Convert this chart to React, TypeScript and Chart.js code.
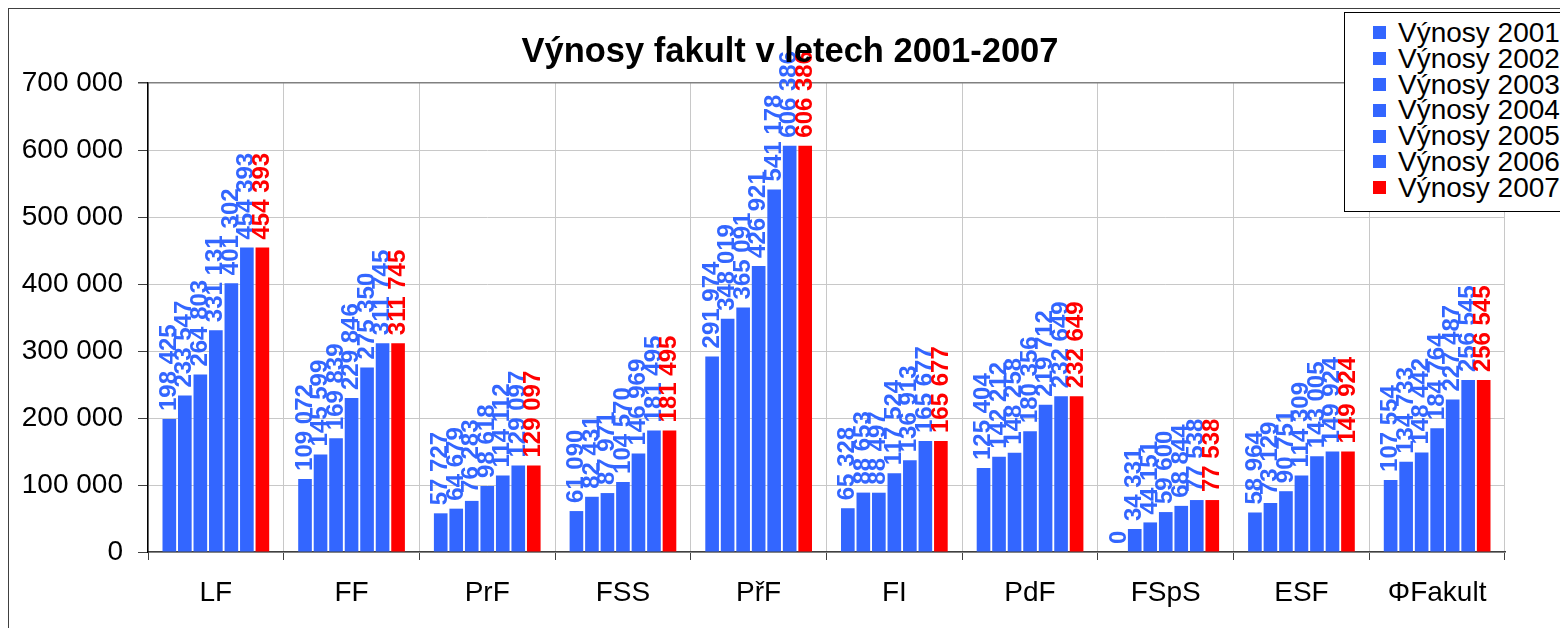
import { useEffect, useRef } from 'react';
import { Chart, registerables } from 'chart.js';

Chart.register(...registerables);

const FONT = '"Liberation Sans", Arial, Helvetica, sans-serif';

const chartTitle = 'Výnosy fakult v letech 2001-2007';
const categories = ['LF', 'FF', 'PrF', 'FSS', 'PřF', 'FI', 'PdF', 'FSpS', 'ESF', 'ΦFakult'];
const seriesNames = ['Výnosy 2001', 'Výnosy 2002', 'Výnosy 2003', 'Výnosy 2004', 'Výnosy 2005', 'Výnosy 2006', 'Výnosy 2007'];
const seriesColors = ['#3366FF', '#3366FF', '#3366FF', '#3366FF', '#3366FF', '#3366FF', '#FF0000'];

const v2001 = [198425, 109072, 57727, 61090, 291974, 65328, 125404, 0, 58964, 107554];
const v2002 = [233547, 145599, 64679, 82431, 348019, 88653, 142212, 34331, 73129, 134733];
const v2003 = [264803, 169839, 76283, 87971, 365091, 88497, 148258, 44151, 90751, 148442];
const v2004 = [331131, 229846, 98618, 104570, 426921, 117524, 180356, 59600, 114309, 184764];
const v2005 = [401302, 275350, 114112, 146969, 541178, 136913, 219712, 68844, 143005, 227487];
const v2006 = [454393, 311745, 129097, 181495, 606386, 165677, 232649, 77538, 149924, 256545];
const v2007 = [454393, 311745, 129097, 181495, 606386, 165677, 232649, 77538, 149924, 256545];

const seriesValues = [v2001, v2002, v2003, v2004, v2005, v2006, v2007];

const yMin = 0;
const yMax = 700000;
const yStep = 100000;

const fmt = (v: number) => String(v).replace(/\B(?=(\d{3})+(?!\d))/g, ' ');

export default function App() {
  const ref = useRef<HTMLCanvasElement>(null);

  useEffect(() => {
    if (!ref.current) return;
    const labelPlugin = {
      id: 'barLabels',
      afterDatasetsDraw(chart: any) {
        const { ctx } = chart;
        ctx.save();
        ctx.font = `bold 24px ${FONT}`;
        ctx.textAlign = 'left';
        ctx.textBaseline = 'middle';
        chart.data.datasets.forEach((ds: any, i: number) => {
          const meta = chart.getDatasetMeta(i);
          meta.data.forEach((el: any, j: number) => {
            const v = ds.data[j];
            ctx.save();
            ctx.translate(el.x, el.y - 8);
            ctx.rotate(-Math.PI / 2);
            ctx.fillStyle = ds.backgroundColor;
            ctx.fillText(fmt(v), 0, 0);
            ctx.restore();
          });
        });
        ctx.restore();
      },
    };

    const titlePlugin = {
      id: 'fullWidthTitle',
      afterDraw(chart: any) {
        const { ctx } = chart;
        ctx.save();
        ctx.font = `bold 34.5px ${FONT}`;
        ctx.fillStyle = '#000';
        ctx.textAlign = 'center';
        ctx.textBaseline = 'alphabetic';
        ctx.fillText(chartTitle, chart.width / 2 + 2, 54);
        ctx.restore();
      },
    };

    const chart = new Chart(ref.current, {
      type: 'bar',
      data: {
        labels: categories,
        datasets: seriesNames.map((name, i) => ({
          label: name,
          data: seriesValues[i],
          backgroundColor: seriesColors[i],
          borderWidth: 0,
          categoryPercentage: 0.8,
          barPercentage: 0.88,
        })),
      },
      options: {
        animation: false,
        responsive: true,
        maintainAspectRatio: false,
        layout: { padding: { left: 0, right: 63, top: 75, bottom: 0 } },
        plugins: {
          legend: { display: false },
          tooltip: { enabled: false },
          title: { display: false },
        },
        scales: {
          x: {
            grid: {
              offset: true,
              color: '#c8c8c8',
              lineWidth: 1,
              drawTicks: true,
              tickLength: 8,
              tickColor: '#404040',
            },
            border: { display: true, color: '#404040', width: 1.5 },
            ticks: {
              color: '#000',
              font: { family: FONT, size: 28 },
              padding: 16,
              maxRotation: 0,
              autoSkip: false,
            },
            afterFit: (scale: any) => {
              scale.height = 76;
            },
          },
          y: {
            min: yMin,
            max: yMax,
            grid: {
              color: (c: any) => (c.tick && c.tick.value === yMax ? '#808080' : '#c8c8c8'),
              lineWidth: (c: any) => (c.tick && c.tick.value === yMax ? 1.5 : 1),
              drawTicks: true,
              tickLength: 10,
              tickColor: '#404040',
            },
            border: { display: true, color: '#000', width: 1.5 },
            ticks: {
              stepSize: yStep,
              color: '#000',
              font: { family: FONT, size: 28 },
              padding: 15,
              callback: (v: any) => fmt(Number(v)),
            },
            afterFit: (scale: any) => {
              scale.width = 140;
            },
          },
        },
      },
      plugins: [labelPlugin, titlePlugin],
    } as any);

    return () => chart.destroy();
  }, []);

  return (
    <div style={{ position: 'relative', width: 1560, height: 620, overflow: 'hidden', background: '#fff' }}>
      <canvas ref={ref} style={{ position: 'absolute', left: 0, top: 0 }} />
      <div
        style={{
          position: 'absolute',
          left: -1,
          top: -1,
          width: 1562,
          height: 622,
          borderLeft: '2px solid #404040',
          borderTop: '2px solid #404040',
          boxSizing: 'border-box',
          pointerEvents: 'none',
        }}
      />
      <div
        style={{
          position: 'absolute',
          left: 1336,
          top: 4,
          width: 240,
          height: 200,
          border: '1.5px solid #000',
          background: '#fff',
          boxSizing: 'border-box',
          paddingTop: 7,
          fontFamily: FONT,
          fontSize: 28,
          color: '#000',
        }}
      >
        {seriesNames.map((name, i) => (
          <div key={name} style={{ display: 'flex', alignItems: 'center', height: 25.8, whiteSpace: 'nowrap' }}>
            <span
              style={{
                display: 'inline-block',
                width: 13,
                height: 13,
                marginLeft: 28,
                marginRight: 12,
                background: seriesColors[i],
              }}
            />
            <span style={{ lineHeight: '25.8px' }}>{name}</span>
          </div>
        ))}
      </div>
    </div>
  );
}
